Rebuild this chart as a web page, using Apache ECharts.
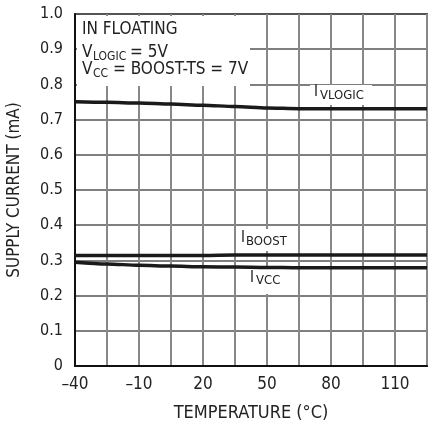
<!DOCTYPE html>
<html><head><meta charset="utf-8">
<script src="https://cdn.jsdelivr.net/npm/echarts@6/dist/echarts.min.js"></script>
<style>html,body{margin:0;padding:0;background:#fff}#c{width:436px;height:424px}</style>
</head><body><div id="c"></div>
<script>
const temps = [-40, -25, -10, 5, 20, 35, 50, 65, 80, 95, 110, 125];
const iVlogic = [0.751, 0.749, 0.747, 0.744, 0.741, 0.737, 0.733, 0.731, 0.731, 0.731, 0.731, 0.731];
const iBoost = [0.314, 0.314, 0.314, 0.314, 0.314, 0.315, 0.315, 0.315, 0.315, 0.315, 0.315, 0.315];
const iVcc = [0.295, 0.290, 0.286, 0.284, 0.282, 0.281, 0.280, 0.279, 0.279, 0.279, 0.279, 0.279];
const xTickLabels = [-40, -10, 20, 50, 80, 110];

const FONT = "'Liberation Sans Narrow', 'DejaVu Sans Condensed', sans-serif";
const pair = (xs, ys) => xs.map((x, i) => [x, ys[i]]);
const fmtX = v => xTickLabels.indexOf(v) >= 0 ? (v < 0 ? '\u2013' + Math.abs(v) : String(v)) : '';

const chart = echarts.init(document.getElementById('c'), null, {renderer: 'canvas'});
const lineStyle = {color: '#1a1a1a', width: 3.5};
function mkSeries(name, ys) {
  return {name, type: 'line', data: pair(temps, ys), showSymbol: false, symbol: 'none',
    smooth: 0.3, smoothMonotone: 'x', lineStyle, z: 3, animation: false};
}
function txt(x, y, s, size) {
  return {type: 'text', x, y, z: 2, style: {text: s, font: size + 'px ' + FONT, fill: '#222', verticalAlign: 'middle', align: 'left'}};
}
function box(x, y, w, h) {
  return {type: 'rect', z: 1, shape: {x, y, width: w, height: h}, style: {fill: '#fff'}};
}
chart.setOption({
  animation: false,
  grid: {left: 75, right: 9, top: 14, bottom: 58, show: true, borderColor: '#555', borderWidth: 2,
    containLabel: false, outerBoundsMode: 'none'},
  xAxis: {
    type: 'value', min: -40, max: 125, interval: 15,
    name: 'TEMPERATURE (\u00B0C)', nameLocation: 'middle', nameGap: 38,
    nameTextStyle: {fontFamily: FONT, fontSize: 18, color: '#222'},
    axisLine: {show: true, onZero: false, lineStyle: {color: '#111', width: 2}},
    axisTick: {show: false},
    axisLabel: {formatter: fmtX, fontFamily: FONT, fontSize: 17, color: '#222', margin: 10, showMaxLabel: true, showMinLabel: true},
    splitLine: {show: true, lineStyle: {color: '#888', width: 2}}
  },
  yAxis: {
    type: 'value', min: 0, max: 1.0, interval: 0.1,
    name: 'SUPPLY CURRENT (mA)', nameLocation: 'middle', nameGap: 52,
    nameTextStyle: {fontFamily: FONT, fontSize: 17, color: '#222'},
    axisLine: {show: true, onZero: false, lineStyle: {color: '#111', width: 2}},
    axisTick: {show: false},
    axisLabel: {formatter: v => v === 0 ? '0' : v.toFixed(1), fontFamily: FONT, fontSize: 16, color: '#222', margin: 12},
    splitLine: {show: true, lineStyle: {color: '#555', width: 1.5}}
  },
  series: [mkSeries('IVLOGIC', iVlogic), mkSeries('IBOOST', iBoost), mkSeries('IVCC', iVcc)],
  graphic: [
    box(77, 16, 173, 70),
    txt(82, 30, 'IN FLOATING', 17),
    txt(82, 53, 'V', 17), txt(93, 57, 'LOGIC', 12), txt(130, 53, '= 5V', 17),
    txt(82, 70, 'V', 17), txt(93, 74, 'CC', 12), txt(113, 70, '= BOOST-TS = 7V', 17),
    box(310, 85, 62, 20),
    txt(314, 92, 'I', 15), txt(320, 96, 'VLOGIC', 13),
    box(239, 229, 50, 22),
    txt(241, 238, 'I', 15), txt(246, 242, 'BOOST', 13),
    box(248, 269, 38, 25),
    txt(250, 278, 'I', 15), txt(256, 281, 'VCC', 13)
  ]
});
</script></body></html>
